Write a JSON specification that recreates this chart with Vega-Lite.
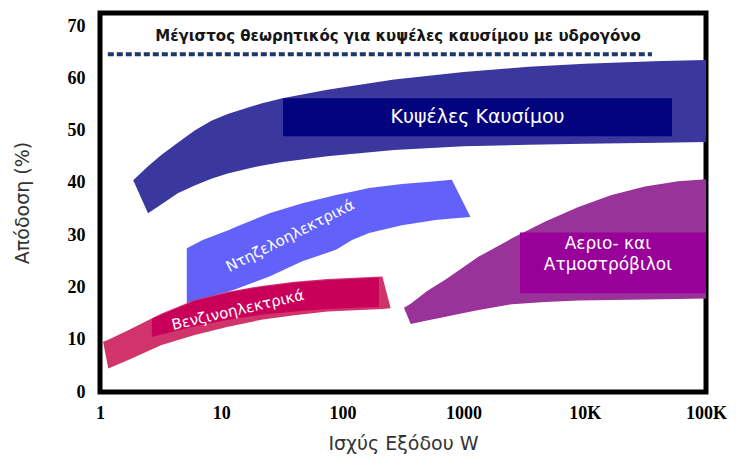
{
  "$schema": "https://vega.github.io/schema/vega-lite/v6.json",
  "width": 606,
  "height": 379,
  "autosize": {"type": "none"},
  "padding": {"left": 100, "top": 13, "right": 30, "bottom": 69},
  "background": "white",
  "config": {"view": {"stroke": "black", "strokeWidth": 5}},
  "datasets": {
    "bands": [
      {"band": "fuel", "w": 1.88, "v2": 40.5, "v": 40.5},
      {"band": "fuel", "w": 2.49, "v2": 34.2, "v": 43.2},
      {"band": "fuel", "w": 3.22, "v2": 35.9, "v": 45.4},
      {"band": "fuel", "w": 4.38, "v2": 38.0, "v": 47.7},
      {"band": "fuel", "w": 6.04, "v2": 39.5, "v": 50.0},
      {"band": "fuel", "w": 8.29, "v2": 40.8, "v": 51.9},
      {"band": "fuel", "w": 11.3, "v2": 41.8, "v": 53.2},
      {"band": "fuel", "w": 21.4, "v2": 43.3, "v": 55.2},
      {"band": "fuel", "w": 32, "v2": 44.0, "v": 56.2},
      {"band": "fuel", "w": 75, "v2": 45.1, "v": 57.8},
      {"band": "fuel", "w": 267, "v2": 46.3, "v": 59.8},
      {"band": "fuel", "w": 1000, "v2": 47.0, "v": 61.2},
      {"band": "fuel", "w": 3440, "v2": 47.3, "v": 62.2},
      {"band": "fuel", "w": 10000, "v2": 47.5, "v": 62.8},
      {"band": "fuel", "w": 42700, "v2": 47.7, "v": 63.3},
      {"band": "fuel", "w": 100000, "v2": 47.8, "v": 63.5},
      {"band": "diesel", "w": 5.2, "v2": 17.0, "v": 27.5},
      {"band": "diesel", "w": 7.03, "v2": 17.8, "v": 29.1},
      {"band": "diesel", "w": 11.3, "v2": 19.2, "v": 30.9},
      {"band": "diesel", "w": 13.3, "v2": 19.7, "v": 31.6},
      {"band": "diesel", "w": 25, "v2": 22.1, "v": 34.2},
      {"band": "diesel", "w": 46.7, "v2": 25.0, "v": 36.1},
      {"band": "diesel", "w": 88.5, "v2": 27.2, "v": 37.7},
      {"band": "diesel", "w": 120, "v2": 29.1, "v": 38.3},
      {"band": "diesel", "w": 166, "v2": 30.4, "v": 39.0},
      {"band": "diesel", "w": 310, "v2": 31.9, "v": 39.8},
      {"band": "diesel", "w": 587, "v2": 32.9, "v": 40.3},
      {"band": "diesel", "w": 800, "v2": 33.2, "v": 40.6},
      {"band": "diesel", "w": 1140, "v2": 33.5, "v": 33.5},
      {"band": "petrol", "w": 1.06, "v2": 9.6, "v": 9.6},
      {"band": "petrol", "w": 1.17, "v2": 4.5, "v": 10.0},
      {"band": "petrol", "w": 1.71, "v2": 6.1, "v": 11.8},
      {"band": "petrol", "w": 3.22, "v2": 9.0, "v": 15.0},
      {"band": "petrol", "w": 6.04, "v2": 10.9, "v": 17.6},
      {"band": "petrol", "w": 11.4, "v2": 12.5, "v": 19.2},
      {"band": "petrol", "w": 21.4, "v2": 13.8, "v": 20.3},
      {"band": "petrol", "w": 40.2, "v2": 14.7, "v": 21.1},
      {"band": "petrol", "w": 75.4, "v2": 15.4, "v": 21.6},
      {"band": "petrol", "w": 214, "v2": 15.9, "v": 22.1},
      {"band": "petrol", "w": 250, "v2": 16.0, "v": 16.0},
      {"band": "petrol_in", "w": 2.68, "v2": 10.5, "v": 14.0},
      {"band": "petrol_in", "w": 3.22, "v2": 11.0, "v": 14.8},
      {"band": "petrol_in", "w": 6.04, "v2": 12.6, "v": 17.4},
      {"band": "petrol_in", "w": 11.4, "v2": 13.8, "v": 19.0},
      {"band": "petrol_in", "w": 21.4, "v2": 14.8, "v": 20.1},
      {"band": "petrol_in", "w": 40.2, "v2": 15.4, "v": 20.9},
      {"band": "petrol_in", "w": 75.4, "v2": 15.9, "v": 21.4},
      {"band": "petrol_in", "w": 200, "v2": 16.3, "v": 21.9},
      {"band": "gas", "w": 322, "v2": 16.1, "v": 16.1},
      {"band": "gas", "w": 366, "v2": 13.0, "v": 16.9},
      {"band": "gas", "w": 500, "v2": 13.7, "v": 19.3},
      {"band": "gas", "w": 710, "v2": 14.4, "v": 21.5},
      {"band": "gas", "w": 1000, "v2": 15.1, "v": 23.9},
      {"band": "gas", "w": 1334, "v2": 15.7, "v": 25.9},
      {"band": "gas", "w": 2506, "v2": 16.8, "v": 29.4},
      {"band": "gas", "w": 4720, "v2": 17.2, "v": 32.6},
      {"band": "gas", "w": 8850, "v2": 17.5, "v": 35.4},
      {"band": "gas", "w": 16630, "v2": 17.6, "v": 37.7},
      {"band": "gas", "w": 31330, "v2": 17.7, "v": 39.3},
      {"band": "gas", "w": 58880, "v2": 17.8, "v": 40.3},
      {"band": "gas", "w": 100000, "v2": 17.9, "v": 40.7}
    ],
    "boxes": [
      {"box": "fuel", "w": 32.4, "w2": 52400, "v": 56.2, "v2": 48.9},
      {"box": "gas", "w": 2920, "w2": 100000, "v": 30.5, "v2": 18.9}
    ],
    "limit": [
      {"w": 1.16, "w2": 35800, "v": 64.6}
    ],
    "labels": [
      {"kind": "title", "w": 288, "v": 68.1, "text": "Μέγιστος θεωρητικός για κυψέλες καυσίμου με υδρογόνο"},
      {"kind": "fuel", "w": 1303, "v": 52.6, "text": "Κυψέλες Καυσίμου"},
      {"kind": "gas", "w": 15500, "v": 28.4, "text": "Αεριο- και"},
      {"kind": "gas", "w": 15500, "v": 24.3, "text": "Ατμοστρόβιλοι"},
      {"kind": "diesel", "w": 37, "v": 29.9, "text": "Ντηζελοηλεκτρικά"},
      {"kind": "petrol", "w": 13.7, "v": 15.7, "text": "Βενζινοηλεκτρικά"}
    ]
  },
  "encoding": {
    "x": {
      "field": "w",
      "type": "quantitative",
      "scale": {"type": "log", "domain": [1, 100000], "nice": false},
      "axis": {
        "title": "Ισχύς Εξόδου W",
        "values": [1, 10, 100, 1000, 10000, 100000],
        "labelExpr": "datum.value >= 10000 ? (datum.value / 1000) + 'K' : datum.value + ''",
        "labelFlush": false,
        "domain": false,
        "grid": false,
        "ticks": false,
        "labelFont": "Liberation Serif",
        "labelFontSize": 18,
        "labelFontWeight": "bold",
        "labelColor": "#000000",
        "labelPadding": 12,
        "titleFont": "DejaVu Sans",
        "titleFontSize": 19,
        "titleFontWeight": "normal",
        "titleColor": "#333333",
        "titleBaseline": "alphabetic",
        "titleY": 57
      }
    },
    "y": {
      "field": "v",
      "type": "quantitative",
      "scale": {"domain": [0, 72.5], "nice": false},
      "axis": {
        "title": "Απόδοση (%)",
        "values": [0, 10, 20, 30, 40, 50, 60, 70],
        "domain": false,
        "grid": false,
        "ticks": false,
        "labelFont": "Liberation Serif",
        "labelFontSize": 18,
        "labelFontWeight": "bold",
        "labelColor": "#000000",
        "labelPadding": 15,
        "titleFont": "DejaVu Sans",
        "titleFontSize": 19,
        "titleFontWeight": "normal",
        "titleColor": "#333333",
        "titleBaseline": "middle",
        "titleX": -78
      }
    }
  },
  "layer": [
    {
      "data": {"name": "bands"},
      "transform": [{"filter": "datum.band === 'fuel'"}],
      "mark": {"type": "area", "color": "#3a389e", "interpolate": "linear"},
      "encoding": {"y2": {"field": "v2"}}
    },
    {
      "data": {"name": "bands"},
      "transform": [{"filter": "datum.band === 'diesel'"}],
      "mark": {"type": "area", "color": "#6262fa", "interpolate": "linear"},
      "encoding": {"y2": {"field": "v2"}}
    },
    {
      "data": {"name": "bands"},
      "transform": [{"filter": "datum.band === 'petrol'"}],
      "mark": {"type": "area", "color": "#d1336b", "interpolate": "linear"},
      "encoding": {"y2": {"field": "v2"}}
    },
    {
      "data": {"name": "bands"},
      "transform": [{"filter": "datum.band === 'petrol_in'"}],
      "mark": {"type": "area", "color": "#c9005a", "interpolate": "linear"},
      "encoding": {"y2": {"field": "v2"}}
    },
    {
      "data": {"name": "bands"},
      "transform": [{"filter": "datum.band === 'gas'"}],
      "mark": {"type": "area", "color": "#993399", "interpolate": "linear"},
      "encoding": {"y2": {"field": "v2"}}
    },
    {
      "data": {"name": "boxes"},
      "transform": [{"filter": "datum.box === 'fuel'"}],
      "mark": {"type": "rect", "color": "#03037d"},
      "encoding": {"x2": {"field": "w2"}, "y2": {"field": "v2"}}
    },
    {
      "data": {"name": "boxes"},
      "transform": [{"filter": "datum.box === 'gas'"}],
      "mark": {"type": "rect", "color": "#990099"},
      "encoding": {"x2": {"field": "w2"}, "y2": {"field": "v2"}}
    },
    {
      "data": {"name": "limit"},
      "mark": {"type": "rule", "color": "#1b3a6b", "strokeWidth": 4, "strokeDash": [6, 3]},
      "encoding": {"x2": {"field": "w2"}}
    },
    {
      "data": {"name": "labels"},
      "transform": [{"filter": "datum.kind === 'title'"}],
      "mark": {"type": "text", "font": "DejaVu Sans", "fontSize": 15, "fontWeight": "bold", "color": "#151515", "align": "center", "baseline": "middle"},
      "encoding": {"text": {"field": "text"}}
    },
    {
      "data": {"name": "labels"},
      "transform": [{"filter": "datum.kind === 'fuel'"}],
      "mark": {"type": "text", "font": "DejaVu Sans", "fontSize": 19, "color": "white", "align": "center", "baseline": "middle"},
      "encoding": {"text": {"field": "text"}}
    },
    {
      "data": {"name": "labels"},
      "transform": [{"filter": "datum.kind === 'gas'"}],
      "mark": {"type": "text", "font": "DejaVu Sans", "fontSize": 17, "color": "white", "align": "center", "baseline": "middle"},
      "encoding": {"text": {"field": "text"}}
    },
    {
      "data": {"name": "labels"},
      "transform": [{"filter": "datum.kind === 'diesel'"}],
      "mark": {"type": "text", "font": "DejaVu Sans", "fontSize": 15, "color": "white", "align": "center", "baseline": "middle", "angle": -27},
      "encoding": {"text": {"field": "text"}}
    },
    {
      "data": {"name": "labels"},
      "transform": [{"filter": "datum.kind === 'petrol'"}],
      "mark": {"type": "text", "font": "DejaVu Sans", "fontSize": 15, "color": "white", "align": "center", "baseline": "middle", "angle": -13},
      "encoding": {"text": {"field": "text"}}
    }
  ]
}
